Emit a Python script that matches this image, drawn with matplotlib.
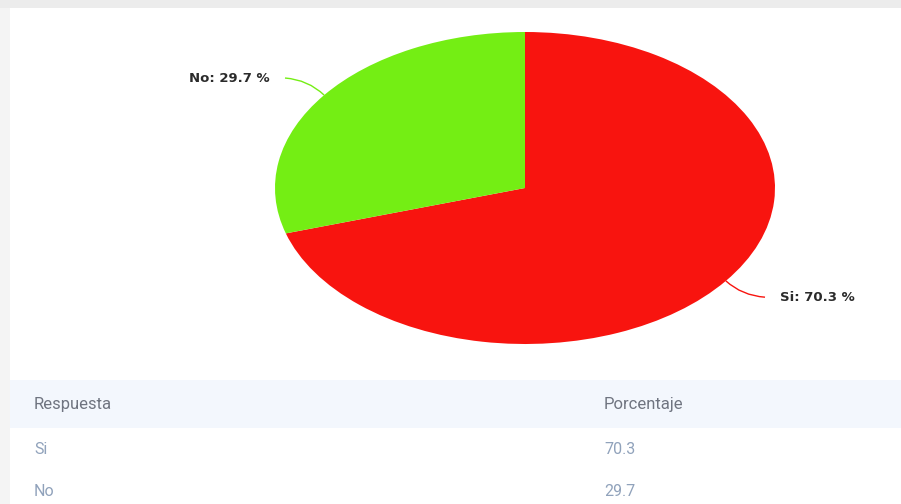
import matplotlib.pyplot as plt
from matplotlib.patches import Rectangle, PathPatch
from matplotlib.path import Path
import numpy as np

respuestas = ['Si', 'No']
porcentajes = [70.3, 29.7]
colores = ['#f8140f', '#74ee14']

W, H = 901, 504
fig = plt.figure(figsize=(W / 100, H / 100), dpi=100)
fig.patch.set_facecolor('#ececec')

# background canvas in pixel units (origin top-left)
bg = fig.add_axes([0, 0, 1, 1])
bg.set_xlim(0, W)
bg.set_ylim(H, 0)
bg.axis('off')

# card with a soft shadow on the left
bg.add_patch(Rectangle((0, 8), 10, H, color='#f4f4f4', lw=0))
bg.add_patch(Rectangle((10, 8), W, H, color='white', lw=0))

# table
bg.add_patch(Rectangle((10, 380), W, 48, color='#f3f7fd', lw=0))
col_x = [34, 604]
bg.text(col_x[0], 405, 'Respuesta', fontsize=12, family='Roboto', color='#6f7480', va='center')
bg.text(col_x[1], 405, 'Porcentaje', fontsize=12, family='Roboto', color='#6f7480', va='center')
for k, (r, p) in enumerate(zip(respuestas, porcentajes)):
    y = 450 + k * 41
    bg.text(col_x[0], y, r, fontsize=11.5, family='Roboto', color='#90a2bb', va='center')
    bg.text(col_x[1], y, f'{p}', fontsize=11.5, family='Roboto', color='#90a2bb', va='center')

# pie, stretched horizontally
cx, cy, rx, ry = 525, 188, 250, 156
ax = fig.add_axes([(cx - rx) / W, 1 - (cy + ry) / H, 2 * rx / W, 2 * ry / H])
wedges, _ = ax.pie(porcentajes, colors=colores, startangle=90, counterclock=False,
                   radius=1, wedgeprops=dict(lw=0))
ax.set_aspect('auto')
ax.set_xlim(-1, 1)
ax.set_ylim(-1, 1)
ax.axis('off')

# connectors and data labels
for w, r, p, c in zip(wedges, respuestas, porcentajes, colores):
    ang = np.deg2rad((w.theta1 + w.theta2) / 2)
    x0, y0 = np.cos(ang), np.sin(ang)
    side = np.sign(x0)
    x2 = side * 0.96
    y2 = 0.705 if y0 > 0 else -0.70
    ctrl = (x0 * 1.08, y2 + (y0 - y2) * 0.1)
    path = Path([(x0, y0), ctrl, (x2, y2)], [Path.MOVETO, Path.CURVE3, Path.CURVE3])
    ax.add_patch(PathPatch(path, fc='none', ec=c, lw=1, clip_on=False))
    ha = 'left' if side > 0 else 'right'
    ax.text(x2 + side * 0.06, y2, f'{r}: {p} %', ha=ha, va='center', fontsize=9.5,
            fontweight='bold', color='#2b2b2b', clip_on=False)

fig.savefig('out.png', dpi=100, facecolor=fig.get_facecolor())
